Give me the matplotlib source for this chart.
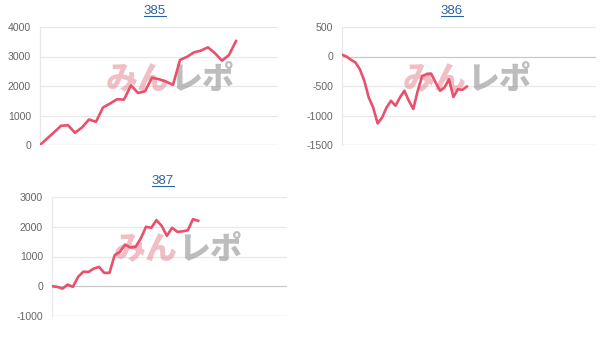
import matplotlib
matplotlib.use("Agg")
import matplotlib.pyplot as plt
from matplotlib.lines import Line2D

plt.rcParams["font.family"] = ["Liberation Sans", "DejaVu Sans"]

# data (one point per game slot)
titles = ["385", "386", "387"]
vals_385 = [0, 215, 430, 650, 670, 415, 595, 865, 787, 1270, 1405, 1550, 1540, 2020, 1765,
            1820, 2280, 2230, 2150, 2040, 2880, 2990, 3140, 3200, 3310, 3110, 2860, 3050, 3525]
vals_386 = [30, 0, -55, -100, -215, -410, -695, -865, -1135, -1035, -865, -750, -835, -695, -580,
            -750, -890, -580, -330, -300, -290, -440, -580, -525, -385, -685, -555, -565, -510]
vals_387 = [0, -20, -80, 55, -20, 315, 490, 480, 595, 650, 450, 450, 1045, 1155, 1400,
            1300, 1325, 1605, 2000, 1965, 2220, 2030, 1695, 1965, 1830, 1845, 1880, 2255, 2200]
x_slots = [34, 57, 45]
y_ranges = [(0, 4000), (-1500, 500), (-1000, 3000)]
y_steps = [1000, 500, 1000]

W, H = 605, 349
fig = plt.figure(figsize=(W / 100, H / 100), dpi=100)

# axes boxes in pixels: left, top, right, bottom
boxes = [(40, 27, 278, 145), (342, 27, 596, 145), (52, 197, 287, 316)]
title_pos = [(155, 11), (452, 11), (163, 181)]
mark_pos = [(170, 79), (467, 79), (178, 249)]

LINE = "#e8506c"
all_vals = [vals_385, vals_386, vals_387]

title_texts = []
for i, vals in enumerate(all_vals):
    l, t, r, b = boxes[i]
    ax = fig.add_axes([l / W, 1 - b / H, (r - l) / W, (b - t) / H])
    ax.plot(range(len(vals)), vals, color=LINE, lw=1.9, zorder=3, solid_joinstyle="round")
    ax.set_xlim(0, x_slots[i])
    lo, hi = y_ranges[i]
    ax.set_ylim(lo, hi)
    ticks = list(range(lo, hi + 1, y_steps[i]))
    ax.set_yticks(ticks)
    ax.set_yticklabels([str(v) for v in ticks])
    ax.set_xticks([])
    ax.tick_params(axis="y", length=0, pad=6.5, labelsize=7.6, labelcolor="#666666")
    for v in ticks:
        c = "#c8c8c8" if v in (lo, 0) else "#e8e8e8"
        ax.axhline(v, color=c, lw=0.9, zorder=1)
    for s in ["top", "right", "bottom"]:
        ax.spines[s].set_visible(False)
    ax.spines["left"].set_color("#e8e8e8")
    ax.spines["left"].set_linewidth(0.9)

    # watermark
    mx, my = mark_pos[i]
    ax.text(mx / W, 1 - my / H, "みん", transform=fig.transFigure, ha="right", va="center",
            fontsize=23, fontweight="heavy", family=["Noto Sans CJK JP"],
            color="#e58a96", alpha=0.55, zorder=2)
    ax.text(mx / W, 1 - my / H, "レポ", transform=fig.transFigure, ha="left", va="center",
            fontsize=23, fontweight="heavy", family=["Noto Sans CJK JP"],
            color="#9a9a9a", alpha=0.65, zorder=2)

    tx, ty = title_pos[i]
    tt = fig.text(tx / W, 1 - ty / H, titles[i], ha="center", va="center",
                  fontsize=9.5, color="#2a63a6")
    title_texts.append(tt)

# underline the titles (they look like links)
fig.canvas.draw()
rend = fig.canvas.get_renderer()
for tt in title_texts:
    bb = tt.get_window_extent(rend)
    y = bb.y0 + 1.2
    fig.add_artist(Line2D([bb.x0 / W, bb.x1 / W], [y / H, y / H],
                          transform=fig.transFigure, color="#2a63a6", lw=0.8))

fig.savefig("out.png", dpi=100, facecolor="white")
